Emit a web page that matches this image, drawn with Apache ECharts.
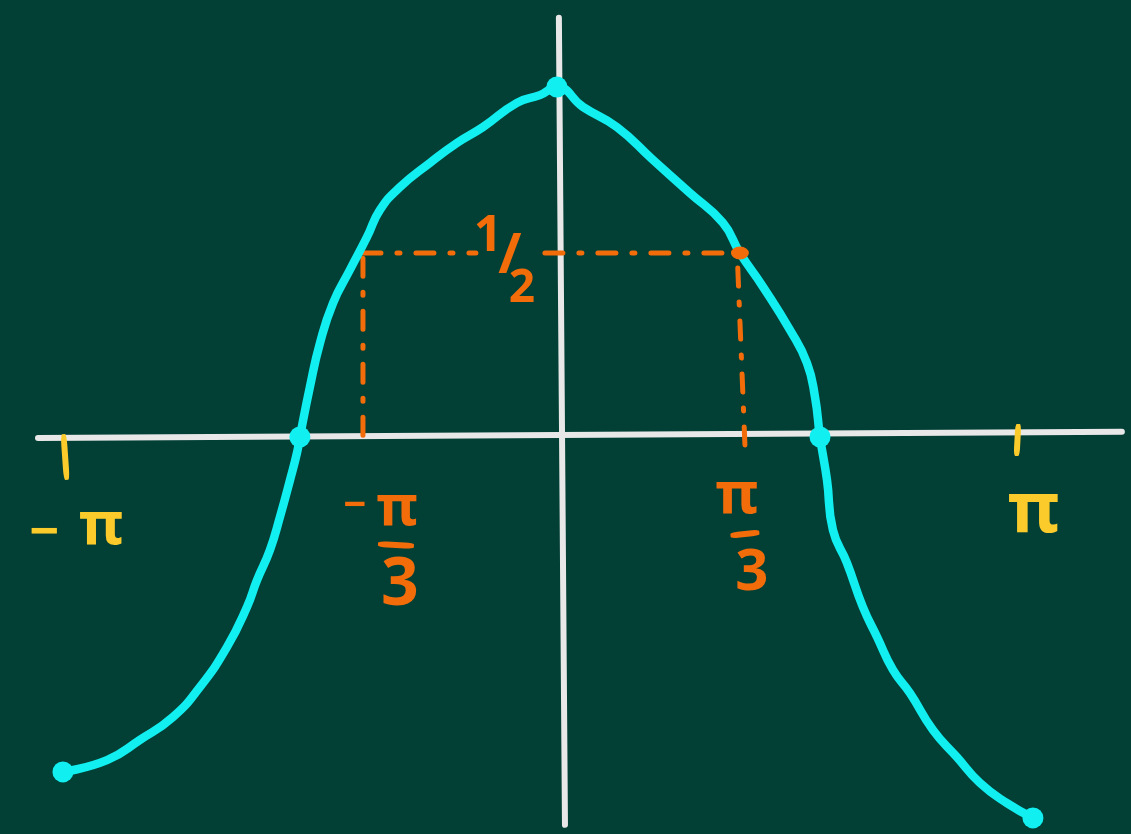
<!DOCTYPE html>
<html>
<head>
<meta charset="utf-8">
<title>y = cos x</title>
<script src="https://cdn.jsdelivr.net/npm/echarts@6/dist/echarts.min.js"></script>
<style>
  html, body { margin: 0; padding: 0; background: #023f35; }
  #chart { width: 1131px; height: 834px; }
</style>
</head>
<body>
<div id="chart"></div>
<script>
// Hand-sketched cosine curve: x in radians, y in function units
const curveX = [-3.270, -2.980, -2.763, -2.546, -2.368, -2.191, -2.059, -1.993, -1.908, -1.842,
                -1.776, -1.730, -1.711, -1.645, -1.579, -1.493, -1.382, -1.270, -1.184, -1.053,
                -0.855, -0.678, -0.507, -0.283, -0.132, -0.020, 0.151, 0.375, 0.612, 0.855,
                1.072, 1.184, 1.336, 1.513, 1.625, 1.678, 1.711, 1.757, 1.796, 1.888,
                1.993, 2.086, 2.191, 2.303, 2.454, 2.612, 2.763, 2.941, 3.112];
const curveY = [-0.910, -0.878, -0.823, -0.761, -0.679, -0.571, -0.462, -0.389, -0.307, -0.217,
                -0.117, -0.043, 0.000, 0.136, 0.255, 0.364, 0.454, 0.543, 0.617, 0.679,
                0.745, 0.799, 0.842, 0.908, 0.929, 0.951, 0.897, 0.842, 0.753, 0.663,
                0.582, 0.500, 0.408, 0.291, 0.201, 0.109, 0.000, -0.117, -0.253, -0.342,
                -0.462, -0.543, -0.633, -0.696, -0.796, -0.870, -0.940, -0.995, -1.035];

// Highlighted points on the curve: ends, zeros and the peak
const dotX = [-3.270, -1.711, -0.020, 1.711, 3.112];
const dotY = [-0.910, 0.000, 0.951, 0.000, -1.035];

// Hand-drawn axes (end points)
const xAxisLineX = [-3.434, 3.697];
const xAxisLineY = [-0.003, 0.014];
const yAxisLineX = [-0.007, 0.033];
const yAxisLineY = [1.139, -1.054];

// Tick marks at -pi and pi
const tickValues = [-3.262, 3.010];
const tickLabels = ['−π', 'π'];

// Level y = 1/2 and where the curve reaches it (±pi/3)
const halfLevel = 0.5;
const halfLabel = ['1', '/', '2'];
const thirdValues = [-1.296, 1.184];
const thirdLabels = ['−π/3', 'π/3'];
const dropTop = [0.486, 0.459];
const dropBottom = -0.022;
const dropFootX = [-1.296, 1.217];
const halfGap = [-0.553, -0.099];

const BG = '#023f35';
const CHALK = '#e8e8e8';
const CYAN = '#12eff0';
const ORANGE = '#f26c0a';
const YELLOW = '#fbcb2c';
const FONT = '"Noto Sans", "DejaVu Sans", sans-serif';

const zip = (xs, ys) => xs.map((x, i) => [x, ys[i]]);

function seg(data, color, width, type, z) {
  return {
    type: 'line', data, symbol: 'none', silent: true, clip: false, z,
    lineStyle: { color, width, type: type || 'solid', cap: 'round', join: 'round' }
  };
}

function textItem(x, y, text, color, size, dx, dy) {
  return {
    value: [x, y],
    label: {
      show: true, position: 'inside', formatter: text, color, opacity: 1,
      fontSize: size, fontWeight: 'bold', fontFamily: FONT, offset: [dx, dy]
    }
  };
}

const dash = [18, 16, 3, 16];

const textData = [
  // -pi and pi
  textItem(tickValues[0], 0, '−', YELLOW, 52, -20, 97),
  textItem(tickValues[0], 0, 'π', YELLOW, 60, 37, 90),
  textItem(tickValues[1], 0, tickLabels[1], YELLOW, 70, 16, 75),
  // -pi/3
  textItem(thirdValues[0], 0, '−', ORANGE, 40, -8, 70),
  textItem(thirdValues[0], 0, 'π', ORANGE, 56, 34, 72),
  textItem(thirdValues[0], 0, '3', ORANGE, 66, 37, 149),
  // pi/3
  textItem(thirdValues[1], 0, 'π', ORANGE, 58, -3, 59),
  textItem(thirdValues[1], 0, '3', ORANGE, 58, 12, 136),
  // 1/2
  textItem(0, halfLevel, halfLabel[0], ORANGE, 50, -72, -16),
  textItem(0, halfLevel, halfLabel[1], ORANGE, 56, -50, 4),
  textItem(0, halfLevel, halfLabel[2], ORANGE, 46, -38, 36)
];

const option = {
  backgroundColor: BG,
  animation: false,
  grid: { left: 0, right: 0, top: 0, bottom: 0 },
  xAxis: { type: 'value', min: -3.684, max: 3.757, show: false },
  yAxis: { type: 'value', min: -1.0788, max: 1.1875, show: false },
  series: [
    // axes
    seg(zip(xAxisLineX, xAxisLineY), CHALK, 6, 'solid', 1),
    seg(zip(yAxisLineX, yAxisLineY), CHALK, 6, 'solid', 1),
    // y = 1/2 guide, broken where its label sits
    seg([[thirdValues[0], halfLevel], [halfGap[0], halfLevel]], ORANGE, 5, dash, 3),
    seg([[halfGap[1], halfLevel], [thirdValues[1], halfLevel]], ORANGE, 5, dash, 3),
    // drops to ±pi/3
    seg([[thirdValues[0], dropTop[0]], [dropFootX[0], dropBottom]], ORANGE, 5, dash, 3),
    seg([[thirdValues[1] - 0.014, dropTop[1]], [dropFootX[1], dropBottom]], ORANGE, 5, dash, 3),
    // the curve
    {
      type: 'line', data: zip(curveX, curveY), symbol: 'none', smooth: 0.5, clip: false, z: 4,
      lineStyle: { color: CYAN, width: 8.5, cap: 'round', join: 'round' }
    },
    {
      type: 'scatter', data: zip(dotX, dotY), symbolSize: 21, z: 5, clip: false,
      itemStyle: { color: CYAN, opacity: 1 }
    },
    {
      type: 'scatter', data: [[thirdValues[1], halfLevel]], symbolSize: [18, 13], z: 6,
      itemStyle: { color: ORANGE, opacity: 1 }
    },
    // tick strokes
    {
      type: 'scatter', z: 6, symbol: 'roundRect', itemStyle: { color: YELLOW, opacity: 1 },
      data: [
        { value: [tickValues[0], 0], symbolSize: [6, 46], symbolOffset: [1, 20], symbolRotate: 4 },
        { value: [tickValues[1], 0], symbolSize: [6, 32], symbolOffset: [0, 3], symbolRotate: -3 }
      ]
    },
    // fraction bars
    {
      type: 'scatter', z: 6, symbol: 'roundRect', itemStyle: { color: ORANGE, opacity: 1 },
      data: [
        { value: [thirdValues[0], 0], symbolSize: [36, 6], symbolOffset: [33, 108], symbolRotate: -3 },
        { value: [thirdValues[1], 0], symbolSize: [29, 6], symbolOffset: [5, 97], symbolRotate: 6 }
      ]
    },
    // text
    {
      type: 'scatter', z: 7, symbolSize: 1, itemStyle: { color: 'rgba(0,0,0,0)', opacity: 1 },
      data: textData
    }
  ]
};

const chart = echarts.init(document.getElementById('chart'), null, { renderer: 'canvas' });
chart.setOption(option);
</script>
</body>
</html>
